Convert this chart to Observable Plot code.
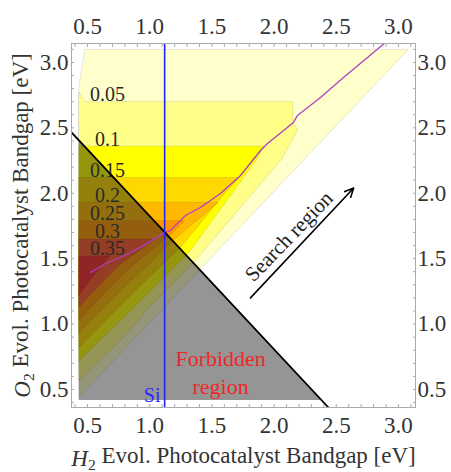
<!DOCTYPE html>
<html><head><meta charset="utf-8">
<script src="https://cdn.jsdelivr.net/npm/d3@7"></script>
<script src="https://cdn.jsdelivr.net/npm/@observablehq/plot@0.6"></script>
<style>body{margin:0;background:#fff} #chart svg{display:block}</style>
</head><body><div id="chart"></div>
<script>
// ---- data (eV) ----
const levelLabels = ["0.05", "0.1", "0.15", "0.2", "0.25", "0.3", "0.35"];
const levelBoundaryY = [2.70, 2.36, 2.12, 1.93, 1.79, 1.65, 1.52];
const labelX = 0.66;

// superlevel regions (efficiency >= level), vertices [x, y]
const band000 = [[0.48,3.10],[3.08,3.10],[0.43,0.44],[0.43,2.81]];
const band005 = [[0.43,2.77],[0.48,2.70],[2.15,2.70],[2.15,2.54],[2.19,2.49],[2.06,2.26],[1.37,1.49],[1.0,1.13],[0.75,0.86],[0.43,0.57]];
const band010 = [[0.43,2.36],[1.92,2.36],[1.86,2.26],[1.31,1.54],[0.95,1.20],[0.43,0.72]];
const band015 = [[0.43,2.12],[1.72,2.12],[1.62,2.02],[1.26,1.60],[0.90,1.27],[0.43,0.82]];
const band020 = [[0.43,1.93],[1.55,1.93],[1.20,1.65],[0.85,1.33],[0.43,0.93]];
const band025 = [[0.43,1.79],[1.28,1.79],[1.15,1.67],[0.80,1.40],[0.43,1.03]];
const band030 = [[0.43,1.65],[1.05,1.65],[0.75,1.45],[0.43,1.13]];
const band035 = [[0.43,1.52],[0.68,1.52],[0.54,1.36],[0.43,1.22]];

// optimum ridge line
const ridgeX = [0.524,0.645,0.765,0.926,1.111,1.167,1.288,1.408,1.569,1.730,1.891,1.947,2.156,2.188,2.373,2.558,2.751,2.896];
const ridgeY = [1.394,1.463,1.509,1.586,1.693,1.716,1.830,1.891,1.998,2.136,2.327,2.381,2.541,2.595,2.732,2.885,3.038,3.153];

// forbidden region
const forbiddenX = [0.43, 0.43, 2.38];
const forbiddenY = [2.405, 0.42, 0.42];
const edgeX = [0.371, 2.437];
const edgeY = [2.465, 0.362];

const siBandgap = 1.12;
const arrowFrom = [1.81, 1.20];
const arrowTo = [2.64, 2.04];

const xTicks = [0.5, 1.0, 1.5, 2.0, 2.5, 3.0];
const yTicks = [0.5, 1.0, 1.5, 2.0, 2.5, 3.0];

// ---- styles ----
const bandColors = ["#ffffcc", "#ffff88", "#ffff00", "#ffd800", "#ffb800", "#ff9800", "#ff5a2c", "#f82a2a"];
const font = "'Liberation Serif', 'Times New Roman', serif";
const fmt = d3.format(".1f");
const minor = d3.range(4, 32).map(i => i / 10);

const bands = [band000, band005, band010, band015, band020, band025, band030, band035];
const polyData = pts => pts.map(([x, y]) => ({x, y}));

const marks = [];
bands.forEach((b, i) => {
  marks.push(Plot.line(polyData(b), {x: "x", y: "y", fill: bandColors[i], stroke: "rgba(0,0,0,0.15)", strokeWidth: 0.7, curve: "linear-closed"}));
});
marks.push(Plot.line(forbiddenX.map((x, i) => ({x, y: forbiddenY[i]})), {x: "x", y: "y", fill: "#1e1e1e", fillOpacity: 0.47, curve: "linear-closed"}));
marks.push(Plot.text(levelLabels.map((t, i) => ({t, y: levelBoundaryY[i]})), {x: () => labelX, y: "y", text: "t", dy: -7, fontSize: 20, fill: "#2a2a2a", fontFamily: font}));
marks.push(Plot.line(ridgeX.map((x, i) => ({x, y: ridgeY[i]})), {x: "x", y: "y", stroke: "#b040c0", strokeWidth: 1.3, clip: true}));
marks.push(Plot.line(edgeX.map((x, i) => ({x, y: edgeY[i]})), {x: "x", y: "y", stroke: "#000", strokeWidth: 1.8, clip: true}));
marks.push(Plot.ruleX([siBandgap], {stroke: "#2222ff", strokeWidth: 1.6}));
marks.push(Plot.text([{x: 1.02, y: 0.45}], {x: "x", y: "y", text: () => "Si", fill: "#2a2aff", fontSize: 20, fontFamily: font}));
marks.push(Plot.text([{x: 1.57, y: 0.64}], {x: "x", y: "y", text: () => "Forbidden\nregion", fill: "#ee2828", fontSize: 22, lineHeight: 1.27, fontFamily: font}));
marks.push(Plot.text([{x: 2.12, y: 1.67}], {x: "x", y: "y", text: () => "Search region", rotate: -46, fill: "#222", fontSize: 21, fontFamily: font}));
marks.push(Plot.arrow([{x1: arrowFrom[0], y1: arrowFrom[1], x2: arrowTo[0], y2: arrowTo[1]}], {x1: "x1", y1: "y1", x2: "x2", y2: "y2", stroke: "#000", strokeWidth: 1.6, headLength: 9, headAngle: 50}));
// frame & ticks
marks.push(Plot.frame({stroke: "#aaa"}));
for (const anchor of ["top", "bottom"]) {
  marks.push(Plot.axisX(minor, {anchor, tickSize: -3, tickFormat: () => "", stroke: "#aaa"}));
  marks.push(Plot.axisX(xTicks, {anchor, tickSize: 0, tickPadding: anchor === "top" ? 10 : 9, tickFormat: fmt, fontSize: 23, fontFamily: font, fill: "#333", label: null}));
}
for (const anchor of ["left", "right"]) {
  marks.push(Plot.axisY(minor, {anchor, tickSize: -3, tickFormat: () => "", stroke: "#aaa"}));
  marks.push(Plot.axisY(yTicks, {anchor, tickSize: 0, tickPadding: anchor === "left" ? 3 : 2, tickFormat: fmt, fontSize: 23, fontFamily: font, fill: "#333", label: null}));
}
marks.push(Plot.text(["X"], {frameAnchor: "bottom", dy: 58, text: () => "H2 Evol. Photocatalyst Bandgap [eV]", fontSize: 23, fontFamily: font, fill: "#333"}));
marks.push(Plot.text(["Y"], {frameAnchor: "left", dx: -49, rotate: -90, textAnchor: "middle", text: () => "O2 Evol. Photocatalyst Bandgap [eV]", fontSize: 23, fontFamily: font, fill: "#333"}));

const chart = Plot.plot({
  width: 451, height: 472,
  marginLeft: 71, marginRight: 36, marginTop: 43, marginBottom: 65,
  x: {domain: [0.371, 3.137]},
  y: {domain: [0.362, 3.145]},
  style: {fontFamily: font, background: "#fff", color: "#333"},
  marks
});

// italic symbol with subscript in axis titles
d3.select(chart).selectAll("text").each(function() {
  const t = this.textContent;
  if (t === "H2 Evol. Photocatalyst Bandgap [eV]" || t === "O2 Evol. Photocatalyst Bandgap [eV]") {
    const sel = d3.select(this);
    sel.text("");
    sel.append("tspan").attr("font-style", "italic").text(t[0]);
    sel.append("tspan").attr("font-size", "0.68em").attr("dy", "0.28em").text("2");
    sel.append("tspan").attr("dy", "-0.28em").text(t.slice(2));
  }
});
document.getElementById("chart").append(chart);
</script>
</body></html>
